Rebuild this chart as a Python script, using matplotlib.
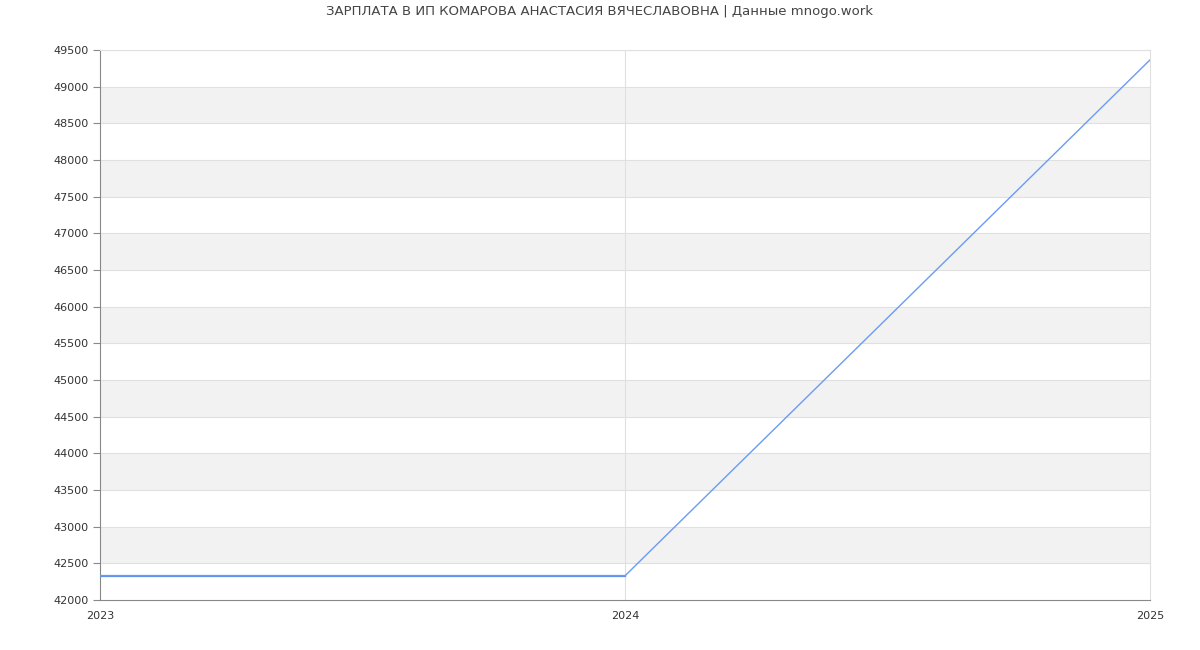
import numpy as np
import matplotlib.pyplot as plt

# данные
years = [2023, 2024, 2025]
salary = [42330, 42330, 49365]
y_ticks = list(range(42000, 49501, 500))

fig = plt.figure(figsize=(12, 6.5), dpi=100)
ax = fig.add_axes([100/1200, 50/650, 1050/1200, 550/650])

# чередующиеся полосы
for i, lo in enumerate(y_ticks[:-1]):
    if i % 2 == 1:
        ax.axhspan(lo, lo + 500, color='#f2f2f2', zorder=0, lw=0)
for t in y_ticks[1:]:
    ax.axhline(t, color='#e0e0e0', lw=0.8, zorder=1)
ax.axvline(2024, color='#e0e0e0', lw=0.8, zorder=1)

ax.plot(years[:2], salary[:2], color='#5b8def', lw=1.6, zorder=3)
ax.plot(years, salary, color='#6b9bf2', lw=1.0, zorder=3)

ax.set_xlim(2023, 2025)
ax.set_ylim(42000, 49500)
ax.set_yticks(y_ticks)
ax.set_xticks(years)
ax.set_xticklabels([str(y) for y in years])
ax.tick_params(axis='y', length=5, color='#888888', labelsize=8, labelcolor='#333333', pad=3)
ax.tick_params(axis='x', length=0, labelsize=8, labelcolor='#333333', pad=8)

for s in ['left', 'bottom']:
    ax.spines[s].set_color('#888888')
for s in ['top', 'right']:
    ax.spines[s].set_color('#e0e0e0')

fig.text(0.5, 1 - 12/650, 'ЗАРПЛАТА В ИП КОМАРОВА АНАСТАСИЯ ВЯЧЕСЛАВОВНА | Данные mnogo.work',
         ha='center', va='center', fontsize=9.5, color='#444444')

plt.savefig('out.png', dpi=100)
